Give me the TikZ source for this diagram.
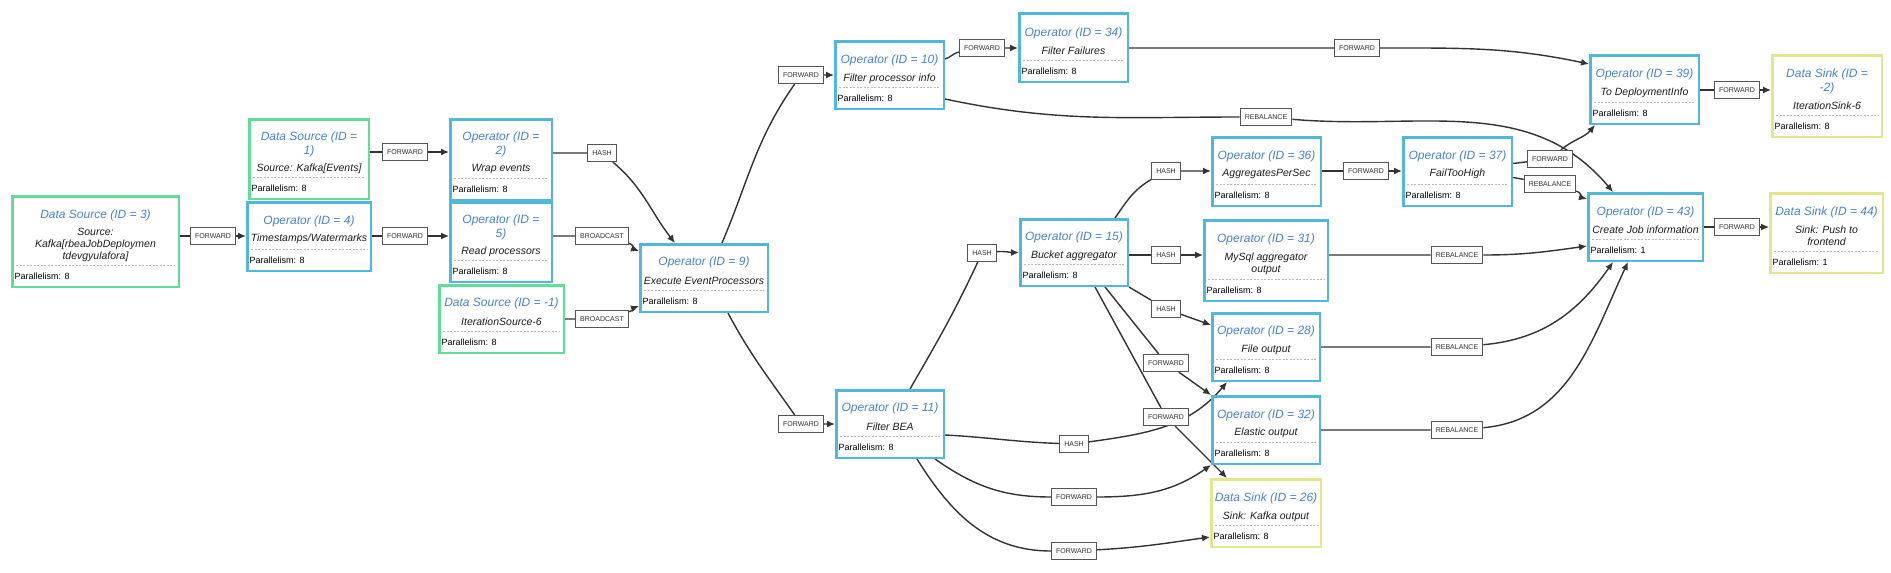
\documentclass[tikz,border=0pt]{standalone}
\usepackage{fontspec}
\setmainfont{Liberation Sans}
\usetikzlibrary{arrows.meta}
\pgfdeclarelayer{bglayer}
\pgfdeclarelayer{edgelayer}
\pgfsetlayers{bglayer,edgelayer,main}
\definecolor{opblue}{RGB}{80,184,218}
\definecolor{srcgreen}{RGB}{98,221,152}
\definecolor{sinkyellow}{RGB}{228,230,140}
\definecolor{ttlblue}{RGB}{72,132,200}
\definecolor{subblack}{RGB}{30,30,30}
\definecolor{sepgray}{RGB}{185,185,185}
\definecolor{lblgray}{RGB}{85,85,85}
\definecolor{lbltext}{RGB}{50,50,50}
\definecolor{edgegray}{RGB}{51,51,51}
\tikzset{
  gbase/.style={draw, fill=white, line width=2.5pt, inner sep=0pt},
  opbox/.style={gbase, draw=opblue},
  srcbox/.style={gbase, draw=srcgreen},
  sinkbox/.style={gbase, draw=sinkyellow},
  gttl/.style={text=ttlblue, font=\fontsize{12}{14}\selectfont\itshape, align=center, inner sep=0pt},
  gsub/.style={text=subblack, font=\fontsize{10.5}{12}\selectfont\itshape, align=center, inner sep=0pt},
  gpar/.style={font=\fontsize{9}{10}\selectfont, text=black, inner sep=0pt, anchor=west},
  gsep/.style={draw=sepgray, dash pattern=on 2pt off 1.5pt, line width=0.7pt},
  glbl/.style={draw=lblgray, fill=white, line width=1.2pt, font=\fontsize{7}{8}\selectfont, text=lbltext, inner xsep=4.5pt, inner ysep=0pt, minimum height=17pt},
  conn/.style={draw=edgegray, line width=1.4pt, -{Latex[length=8pt,width=7pt]}},
}
\newcommand\gbox[7]{%
  \node[#2, minimum width={(#5-#3-2.5)*1pt}, minimum height={(#6-#4-2.5)*1pt}] (#1) at ({(#3+#5)/2},{(#4+#6)/2}) {};
  \draw[gsep] ({#3+5},{#6-23}) -- ({#5-5},{#6-23});
  \node[gpar] (#1-par) at ({#3+3.5},{#6-12}) {Parallelism: #7};
}
\begin{document}
\begin{tikzpicture}[x=1pt,y=-1pt]
\begin{pgfonlayer}{bglayer}
\fill[white] (0,0) rectangle (1891,573);
\end{pgfonlayer}
\useasboundingbox (0,0) rectangle (1891,573);

% ---------- boxes ----------
\gbox{ds3}{srcbox}{11}{195}{180}{288}{8}
\node[gttl] (ds3-t) at (95.5,215) {Data Source (ID = 3)};
\node[gsub] (ds3-s) at (95.5,245) {Source:\\Kafka[rbeaJobDeploymen\\tdevgyulafora]};

\gbox{ds1}{srcbox}{248}{118}{370}{200}{8}
\node[gttl] (ds1-t) at (309,144) {Data Source (ID =\\1)};
\node[gsub] (ds1-s) at (309,169) {Source: Kafka[Events]};

\gbox{op4}{opbox}{246}{201}{372}{272}{8}
\node[gttl] (op4-t) at (309,221) {Operator (ID = 4)};
\node[gsub] (op4-s) at (309,239) {Timestamps/Watermarks};

\gbox{op2}{opbox}{449}{118}{553}{201}{8}
\node[gttl] (op2-t) at (501,144) {Operator (ID =\\2)};
\node[gsub] (op2-s) at (501,169) {Wrap events};

\gbox{op5}{opbox}{449}{201}{553}{283}{8}
\node[gttl] (op5-t) at (501,227.5) {Operator (ID =\\5)};
\node[gsub] (op5-s) at (501,252) {Read processors};

\gbox{dsm1}{srcbox}{438}{284}{565}{354}{8}
\node[gttl] (dsm1-t) at (501.5,303) {Data Source (ID = -1)};
\node[gsub] (dsm1-s) at (501.5,322) {IterationSource-6};

\gbox{op9}{opbox}{639}{243}{769}{313}{8}
\node[gttl] (op9-t) at (704,262) {Operator (ID = 9)};
\node[gsub] (op9-s) at (704,281) {Execute EventProcessors};

\gbox{op10}{opbox}{834}{40}{945}{110}{8}
\node[gttl] (op10-t) at (889.5,60) {Operator (ID = 10)};
\node[gsub] (op10-s) at (889.5,79) {Filter processor info};

\gbox{op34}{opbox}{1018}{12}{1129}{83}{8}
\node[gttl] (op34-t) at (1073.5,33) {Operator (ID = 34)};
\node[gsub] (op34-s) at (1073.5,51) {Filter Failures};

\gbox{op11}{opbox}{835}{389}{945}{459}{8}
\node[gttl] (op11-t) at (890,408) {Operator (ID = 11)};
\node[gsub] (op11-s) at (890,427) {Filter BEA};

\gbox{op15}{opbox}{1019}{218}{1129}{287}{8}
\node[gttl] (op15-t) at (1074,237) {Operator (ID = 15)};
\node[gsub] (op15-s) at (1074,256) {Bucket aggregator};

\gbox{op36}{opbox}{1211}{136}{1322}{207}{8}
\node[gttl] (op36-t) at (1266.5,156) {Operator (ID = 36)};
\node[gsub] (op36-s) at (1266.5,174) {AggregatesPerSec};

\gbox{op37}{opbox}{1402}{136}{1513}{207}{8}
\node[gttl] (op37-t) at (1457.5,156) {Operator (ID = 37)};
\node[gsub] (op37-s) at (1457.5,174) {FailTooHigh};

\gbox{op31}{opbox}{1203}{219}{1329}{302}{8}
\node[gttl] (op31-t) at (1266,239) {Operator (ID = 31)};
\node[gsub] (op31-s) at (1266,263.5) {MySql aggregator\\output};

\gbox{op28}{opbox}{1211}{312}{1321}{382}{8}
\node[gttl] (op28-t) at (1266,331) {Operator (ID = 28)};
\node[gsub] (op28-s) at (1266,350) {File output};

\gbox{op32}{opbox}{1211}{395}{1321}{465}{8}
\node[gttl] (op32-t) at (1266,415) {Operator (ID = 32)};
\node[gsub] (op32-s) at (1266,433) {Elastic output};

\gbox{ds26}{sinkbox}{1210}{478}{1322}{548}{8}
\node[gttl] (ds26-t) at (1266,498) {Data Sink (ID = 26)};
\node[gsub] (ds26-s) at (1266,517) {Sink: Kafka output};

\gbox{op39}{opbox}{1589}{54}{1700}{125}{8}
\node[gttl] (op39-t) at (1644.5,74) {Operator (ID = 39)};
\node[gsub] (op39-s) at (1644.5,93) {To DeploymentInfo};

\gbox{op43}{opbox}{1587}{192}{1704}{262}{1}
\node[gttl] (op43-t) at (1645.5,212) {Operator (ID = 43)};
\node[gsub] (op43-s) at (1645.5,230) {Create Job information};

\gbox{dsm2}{sinkbox}{1771}{54}{1883}{138}{8}
\node[gttl] (dsm2-t) at (1827,81.5) {Data Sink (ID =\\-2)};
\node[gsub] (dsm2-s) at (1827,106) {IterationSink-6};

\gbox{ds44}{sinkbox}{1769}{192}{1884}{274}{1}
\node[gttl] (ds44-t) at (1826.5,212) {Data Sink (ID = 44)};
\node[gsub] (ds44-s) at (1826.5,236) {Sink: Push to\\frontend};

% ---------- edge labels ----------
\node[glbl] (L1) at (213,236) {FORWARD};
\node[glbl] (L2) at (405,152) {FORWARD};
\node[glbl] (L3) at (405,236) {FORWARD};
\node[glbl] (L4) at (602,153) {HASH};
\node[glbl] (L5) at (602,236) {BROADCAST};
\node[glbl] (L6) at (602,319) {BROADCAST};
\node[glbl] (L7) at (801,75) {FORWARD};
\node[glbl] (L8) at (801,424) {FORWARD};
\node[glbl] (L9) at (982,48) {FORWARD};
\node[glbl] (L10) at (1357,48) {FORWARD};
\node[glbl] (L11) at (1266,117) {REBALANCE};
\node[glbl] (L12) at (982,253) {HASH};
\node[glbl] (L13) at (1166,171) {HASH};
\node[glbl] (L14) at (1166,255) {HASH};
\node[glbl] (L15) at (1166,309) {HASH};
\node[glbl] (L16) at (1166,363) {FORWARD};
\node[glbl] (L17) at (1166,417) {FORWARD};
\node[glbl] (L18) at (1074,444) {HASH};
\node[glbl] (L19) at (1074,497) {FORWARD};
\node[glbl] (L20) at (1074,551) {FORWARD};
\node[glbl] (L21) at (1366,171) {FORWARD};
\node[glbl] (L22) at (1550,159) {FORWARD};
\node[glbl] (L23) at (1550,184) {REBALANCE};
\node[glbl] (L24) at (1457,255) {REBALANCE};
\node[glbl] (L25) at (1457,347) {REBALANCE};
\node[glbl] (L26) at (1457,430) {REBALANCE};
\node[glbl] (L27) at (1737,90) {FORWARD};
\node[glbl] (L28) at (1737,227) {FORWARD};

% ---------- connectors ----------
\begin{pgfonlayer}{edgelayer}
\draw[conn] (ds3.east |- L1) -- (L1) -- (op4.west |- L1);
\draw[conn] (ds1.east |- L2) -- (L2) -- (op2.west |- L2);
\draw[conn] (op4.east |- L3) -- (L3) -- (op5.west |- L3);
\draw[conn] (op2.east |- L4) to[out=0,in=180] (L4) to[out=-40,in=128] ([xshift=-29pt]op9.north);
\draw[conn] (op5.east |- L5) -- (L5) to[out=-15,in=160] ([yshift=27pt]op9.west);
\draw[conn] (dsm1.east |- L6) -- (L6) to[out=15,in=200] ([yshift=-28pt]op9.west);
\draw[conn] ([xshift=18pt]op9.north) to[out=67,in=-125] (L7) -- (op10.west |- L7);
\draw[conn] ([xshift=24pt]op9.south) to[out=-62,in=125] (L8) -- (op11.west |- L8);
\draw[conn] ([yshift=16pt]op10.east) to[out=15,in=190] (L9) -- (op34.west |- L9);
\draw[conn] (op34.east |- L10) -- (L10) to[out=0,in=168] ([yshift=25.5pt]op39.west);
\draw[conn] ([yshift=-24pt]op10.east) to[out=-12,in=180] (L11) to[out=-5,in=130] ([xshift=-32.5pt]op43.north);
\draw[conn] ([xshift=20pt]op11.north) to[out=60,in=-115] (L12) to[out=5,in=180] (op15.west);
\draw[conn] ([xshift=41pt]op15.north) to[out=55,in=210] (L13) -- (op36.west |- L13);
\draw[conn] (op15.east |- L14) -- (L14) -- (op31.west |- L14);
\draw[conn] (op15.south east) -- (L15) -- ([yshift=22pt]op28.west);
\draw[conn] ([xshift=31pt]op15.south) -- (L16) -- (op32.north west);
\draw[conn] ([xshift=21pt]op15.south) -- (L17) -- ([xshift=-39pt]ds26.north);
\draw[conn] ([yshift=-11pt]op11.east) to[out=-3,in=178] (L18) to[out=8,in=-130] ([xshift=-39pt]op28.south);
\draw[conn] ([xshift=45pt]op11.south) to[out=-35,in=180] (L19) to[out=0,in=-145] (op32.south west);
\draw[conn] ([xshift=27pt]op11.south) to[out=-58,in=180] (L20) to[out=3,in=188] ([yshift=-24pt]ds26.west);
\draw[conn] (op36.east |- L21) -- (L21) -- (op37.west |- L21);
\draw[conn] ([yshift=8pt]op37.east) -- (L22) to[out=40,in=-130] ([xshift=-49.5pt]op39.south);
\draw[conn] ([yshift=-6pt]op37.east) -- (L23) to[out=-15,in=165] ([yshift=28pt]op43.west);
\draw[conn] (op31.east |- L24) -- (L24) to[out=0,in=188] ([yshift=-19pt]op43.west);
\draw[conn] (op28.east |- L25) -- (L25) to[out=5,in=-125] ([xshift=-32.5pt]op43.south);
\draw[conn] (op32.east |- L26) -- (L26) to[out=5,in=-115] ([xshift=-17.5pt]op43.south);
\draw[conn] (op39.east |- L27) -- (L27) -- (dsm2.west |- L27);
\draw[conn] (op43.east |- L28) -- (L28) -- (ds44.west |- L28);
\end{pgfonlayer}
\end{tikzpicture}
\end{document}
